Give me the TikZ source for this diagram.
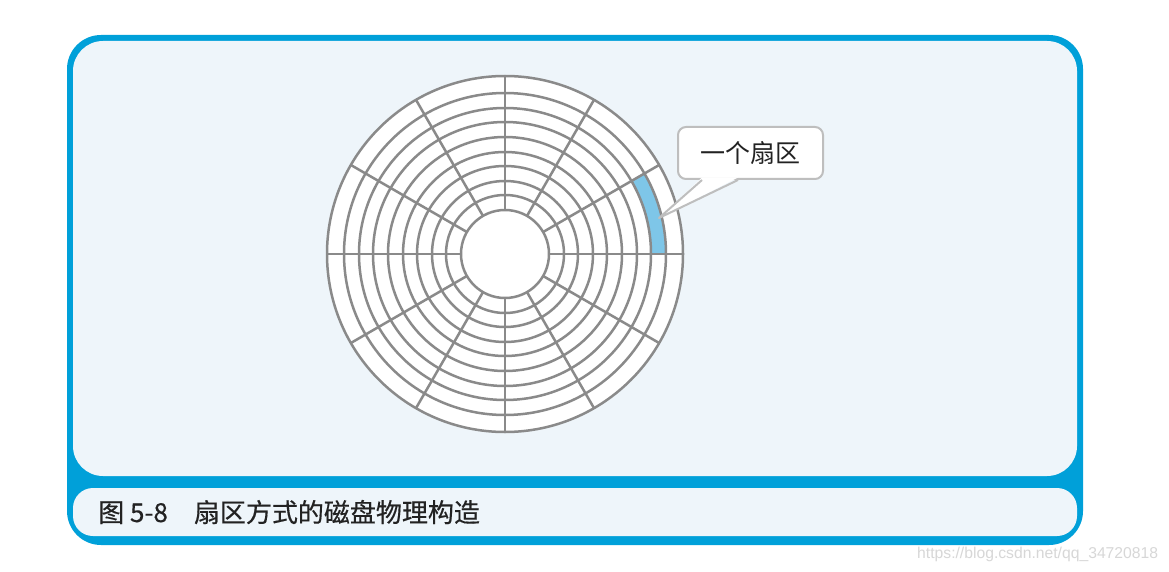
\documentclass[tikz,border=0pt]{standalone}
\usepackage{fontspec}
\newfontfamily\cjk{Noto Sans CJK SC}
\newfontfamily\cjkcap{Noto Sans CJK SC}[FakeBold=0.4]
\newfontfamily\wmfont{Liberation Sans}
\definecolor{frameblue}{RGB}{0,160,217}
\definecolor{panel}{RGB}{238,245,250}
\definecolor{diskline}{RGB}{138,138,138}
\definecolor{sector}{RGB}{126,198,232}
\definecolor{callline}{RGB}{190,190,190}
\definecolor{wmgray}{RGB}{215,215,215}
\definecolor{textdark}{RGB}{34,34,34}
\begin{document}
\begin{tikzpicture}[x=1pt,y=-1pt,
  diskring/.style={draw=diskline, line width=2.5pt},
  callbox/.style={draw=callline, line width=2pt, fill=white, rounded corners=8pt,
    minimum width=145pt, minimum height=52pt, inner sep=0pt,
    font=\cjk\fontsize{25}{30}\selectfont, text=textdark},
  captext/.style={font=\cjkcap\fontsize{26}{31}\selectfont, text=textdark, inner sep=0pt},
  wmtext/.style={font=\wmfont\fontsize{15.7}{18}\selectfont, text=wmgray, inner sep=0pt}]
\useasboundingbox (0,0) rectangle (1169,572);
\fill[white] (0,0) rectangle (1169,572);
% frame
\fill[frameblue, rounded corners=34pt] (67,35) rectangle (1083,545);
\fill[panel, rounded corners=30pt] (73,41) rectangle (1077,476);
\fill[panel, rounded corners=20pt] (73,488) rectangle (1077,536);
% disk
\begin{scope}[shift={(505,254)}, yscale=-1]
  \fill[white] (0,0) circle[radius=178];
  \fill[sector] (0:146) arc[start angle=0, end angle=30, radius=146]
     -- (30:161) arc[start angle=30, end angle=0, radius=161] -- cycle;
  \foreach \r in {44,59,73,88,102,117,132,146,161,178}
    \draw[diskring] (0,0) circle[radius=\r];
  \foreach \a in {0,30,...,330}
    \draw[diskring] (\a:44) -- (\a:178);
\end{scope}
% callout
\node[callbox] (callout) at (750.5,153) {一个扇区};
\coordinate (tip) at (659,218);
\coordinate (pa) at ([xshift=-48.5pt]callout.south);
\coordinate (pb) at ([xshift=-12.5pt]callout.south);
\fill[white] ([yshift=2.5pt]pa) -- (tip) -- ([yshift=2.5pt]pb) -- cycle;
\draw[callline, line width=2pt, line join=round] (pa) -- (tip) -- (pb);
% caption
\node[captext, anchor=base west] (caption) at (98,522) {图 5-8　扇区方式的磁盘物理构造};
% watermark
\node[wmtext, anchor=base west] (wm) at (917,558) {https://blog.csdn.net/qq\_34720818};
\end{tikzpicture}
\end{document}
